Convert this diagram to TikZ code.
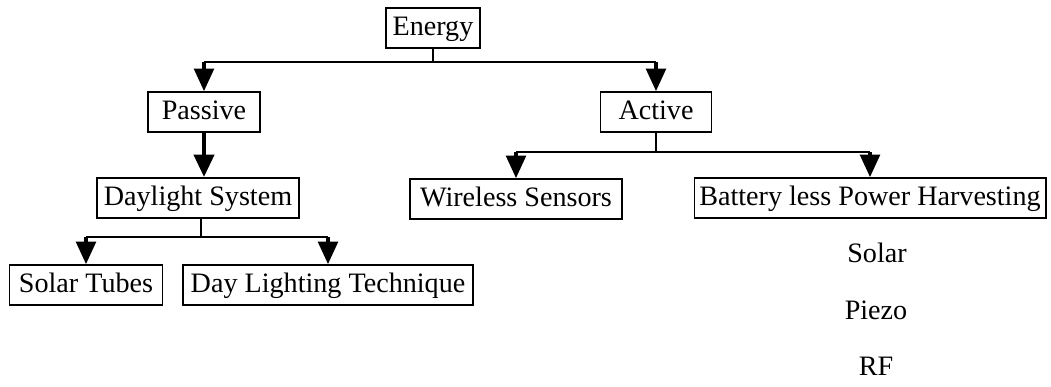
\documentclass[tikz,border=0pt]{standalone}
\usepackage{fontspec}
\setmainfont{Liberation Serif}
\usetikzlibrary{arrows.meta}

\tikzset{
  box/.style={draw, line width=1.2pt, inner xsep=2pt, inner ysep=0pt,
    minimum height=1cm, text height=14pt, text depth=4pt,
    font=\fontsize{20}{24}\selectfont},
  plain/.style={font=\fontsize{20}{24}\selectfont},
  link/.style={line width=1pt},
  arr/.style={line width=2.4pt, -{Triangle[width=14pt,length=16pt]}}
}

\begin{document}
\begin{tikzpicture}[x=0.025cm, y=-0.025cm]
  \useasboundingbox (0,0) rectangle (1051,387);

  % Draw the boxes
  \node[box, minimum width=2.35cm] (energy) at (433,28) {Energy};
  \node[box, minimum width=2.8cm] (passive) at (204,112) {Passive};
  \node[box, minimum width=2.78cm] (active) at (656,112) {Active};
  \node[box, minimum width=5.05cm] (daylight) at (198,198) {Daylight System};
  \node[box, minimum width=3.83cm] (tubes) at (86,285) {Solar Tubes};
  \node[box, minimum width=7.25cm] (technique) at (328,285) {Day Lighting Technique};
  \node[box, minimum width=5.3cm] (wireless) at (516,199) {Wireless Sensors};
  \node[box, minimum width=8.78cm] (battery) at (870,198) {Battery less Power Harvesting};

  % Draw the harvesting sources below
  \node[plain] (solar) at (877,253) {Solar};
  \node[plain] (piezo) at (876,310) {Piezo};
  \node[plain] (rf) at (876,366) {RF};

  % Draw the junction points
  \coordinate (ej) at (433,62);
  \coordinate (aj) at (656,152);
  \coordinate (dj) at (201,237);

  % Energy splits into passive and active
  \draw[link] (energy.south) -- (ej);
  \draw[link] (passive.north |- ej) -- (active.north |- ej);
  \draw[arr] (passive.north |- ej) -- (passive.north);
  \draw[arr] (active.north |- ej) -- (active.north);

  % Passive leads down to the daylight system
  \draw[arr, line width=3.4pt] (passive.south) -- (daylight.north -| passive.south);

  % Daylight system branches
  \draw[link] (daylight.south -| dj) -- (dj);
  \draw[link] (tubes.north |- dj) -- (technique.north |- dj);
  \draw[arr] (tubes.north |- dj) -- (tubes.north);
  \draw[arr] (technique.north |- dj) -- (technique.north);

  % Active branches
  \draw[link] (active.south) -- (aj);
  \draw[link] (wireless.north |- aj) -- (battery.north |- aj);
  \draw[arr] (wireless.north |- aj) -- (wireless.north);
  \draw[arr] (battery.north |- aj) -- (battery.north);
\end{tikzpicture}
\end{document}
